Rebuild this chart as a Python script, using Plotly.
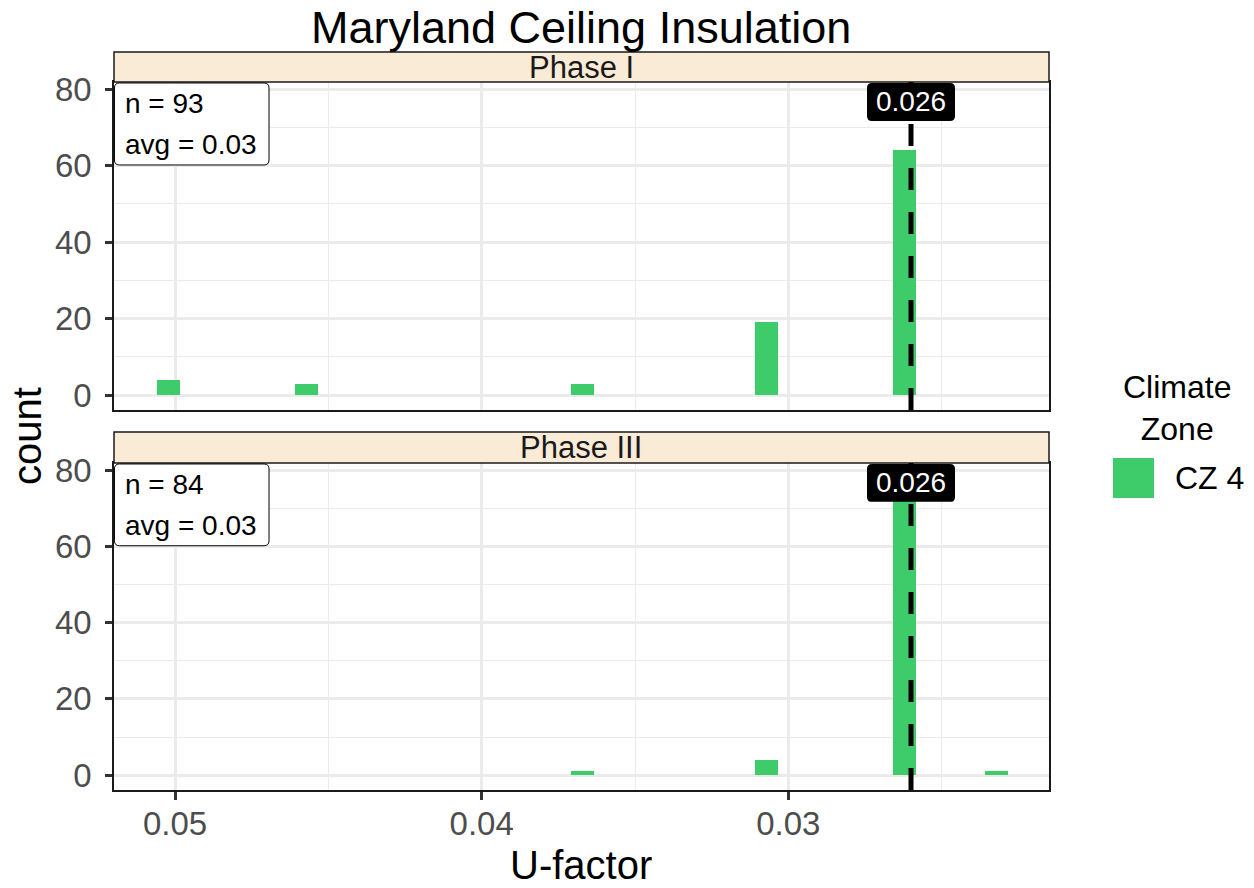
import plotly.graph_objects as go

# histogram bins (U-factor centers) and counts per phase
phase1_u = [0.0502, 0.0457, 0.0367, 0.0307, 0.0262]
phase1_count = [4, 3, 3, 19, 64]
phase3_u = [0.0367, 0.0307, 0.0262, 0.0232]
phase3_count = [1, 4, 78, 1]

phase_labels = ["Phase I", "Phase III"]
phase_n = [93, 84]
phase_avg = ["0.03", "0.03"]
code_value = 0.026

x_ticks = [0.05, 0.04, 0.03]
x_minor = [0.045, 0.035, 0.025]
y_ticks = [0, 20, 40, 60, 80]
y_minor = [10, 30, 50, 70]

green = "#3ECB6A"
font = "Liberation Sans, Arial, sans-serif"
W, H = 1254, 888
OFF = 8  # page body margin
x_range = [0.05199, 0.0215]
panel_w, panel_h = 935, 328


def fx(px):
    return (px - OFF) / W


def fy(py):
    return 1 - (py - OFF) / H


def round_rect(x0, x1, y0, y1, rx, ry):
    # rounded rectangle svg path, radii given in the shape's own units
    rx = rx if x1 > x0 else -rx
    ry = ry if y1 > y0 else -ry
    return (f"M {x0 + rx},{y0} L {x1 - rx},{y0} Q {x1},{y0} {x1},{y0 + ry} "
            f"L {x1},{y1 - ry} Q {x1},{y1} {x1 - rx},{y1} L {x0 + rx},{y1} "
            f"Q {x0},{y1} {x0},{y1 - ry} L {x0},{y0 + ry} Q {x0},{y0} {x0 + rx},{y0} Z")


fig = go.Figure()
fig.add_trace(go.Bar(x=phase1_u, y=phase1_count, width=0.00075, marker_color=green,
                     marker_line_width=0, xaxis="x", yaxis="y", showlegend=False))
fig.add_trace(go.Bar(x=phase3_u, y=phase3_count, width=0.00075, marker_color=green,
                     marker_line_width=0, xaxis="x2", yaxis="y2", showlegend=False))

xdom = [fx(114), fx(1049)]
ydoms = [[fy(410), fy(82)], [fy(790), fy(463)]]
strips = [[fy(82), fy(52)], [fy(463), fy(432)]]

axis_common = dict(showline=True, linecolor="#1a1a1a", linewidth=1.5, mirror=True,
                   showgrid=True, gridcolor="#EBEBEB", gridwidth=2.5, zeroline=False,
                   automargin=False,
                   tickfont=dict(family=font, size=33, color="#4D4D4D"))

xa = dict(axis_common, range=x_range, tickvals=x_ticks,
          ticktext=[str(v) for v in x_ticks],
          minor=dict(tickvals=x_minor, showgrid=True, gridcolor="#EBEBEB", gridwidth=1.2))
ya = dict(axis_common, range=[-3.9, 81.9], tickvals=y_ticks, ticks="outside", ticklen=7,
          tickwidth=2.5, tickcolor="#333333", ticklabelstandoff=7,
          minor=dict(tickvals=y_minor, showgrid=True, gridcolor="#EBEBEB", gridwidth=1.2))

fig.update_layout(
    template="none",
    xaxis=dict(xa, domain=xdom, anchor="y", showticklabels=False, ticks=""),
    yaxis=dict(ya, domain=ydoms[0], anchor="x"),
    xaxis2=dict(xa, domain=xdom, anchor="y2", matches="x", ticks="outside", ticklen=8,
                tickwidth=2.5, tickcolor="#333333", ticklabelstandoff=-4),
    yaxis2=dict(ya, domain=ydoms[1], anchor="x2", matches="y"),
)

# size of the value label box in x data units
x_per_px = (x_range[0] - x_range[1]) / panel_w
label_half = 44 * x_per_px

shapes = []
annotations = []
for i, (xr, yr) in enumerate([("x", "y"), ("x2", "y2")]):
    # facet strip
    shapes.append(dict(type="rect", xref="paper", yref="paper", x0=xdom[0], x1=xdom[1],
                       y0=strips[i][0], y1=strips[i][1], fillcolor="#FAEBD7",
                       line=dict(color="#1a1a1a", width=1.5), layer="above"))
    annotations.append(dict(text=phase_labels[i], xref="paper", yref="paper",
                            x=(xdom[0] + xdom[1]) / 2, y=(strips[i][0] + strips[i][1]) / 2,
                            xanchor="center", yanchor="middle", showarrow=False,
                            font=dict(family=font, size=31, color="#1a1a1a")))
    # dashed code line
    shapes.append(dict(type="line", xref=xr, yref=yr + " domain", x0=code_value, x1=code_value,
                       y0=0, y1=1, line=dict(color="black", width=5, dash="22px,22px"),
                       layer="above"))
    # n / avg box
    shapes.append(dict(type="path", xref=xr + " domain", yref=yr + " domain",
                       path=round_rect(0.0005, 0.1658, 0.747, 0.997,
                                       5 / panel_w, 5 / panel_h),
                       fillcolor="white", line=dict(color="black", width=1), layer="above"))
    annotations.append(dict(text=f"n = {phase_n[i]}", xref=xr + " domain", yref=yr + " domain",
                            x=0.0096, y=0.933, xanchor="left", yanchor="middle", showarrow=False,
                            font=dict(family=font, size=28, color="black")))
    annotations.append(dict(text=f"avg = {phase_avg[i]}", xref=xr + " domain",
                            yref=yr + " domain", x=0.0096, y=0.808, xanchor="left",
                            yanchor="middle", showarrow=False,
                            font=dict(family=font, size=28, color="black")))
    # code value label
    shapes.append(dict(type="path", xref=xr, yref=yr + " domain",
                       path=round_rect(code_value + label_half, code_value - label_half,
                                       0.997 - 38 / panel_h, 0.997,
                                       5 * x_per_px, 5 / panel_h),
                       fillcolor="black", line=dict(width=0), layer="above"))
    annotations.append(dict(text=str(code_value), xref=xr, yref=yr + " domain", x=code_value,
                            y=0.997 - 19 / panel_h, xanchor="center", yanchor="middle",
                            showarrow=False,
                            font=dict(family=font, size=28, color="white")))

# titles
annotations.append(dict(text="Maryland Ceiling Insulation", xref="paper", yref="paper",
                        x=(xdom[0] + xdom[1]) / 2, y=fy(28), xanchor="center",
                        yanchor="middle", showarrow=False,
                        font=dict(family=font, size=45, color="black")))
annotations.append(dict(text="count", xref="paper", yref="paper", x=fx(27), y=fy(436),
                        xanchor="center", yanchor="middle", textangle=-90, showarrow=False,
                        font=dict(family=font, size=40, color="black")))
annotations.append(dict(text="U-factor", xref="paper", yref="paper",
                        x=(xdom[0] + xdom[1]) / 2, y=fy(865), xanchor="center",
                        yanchor="middle", showarrow=False,
                        font=dict(family=font, size=40, color="black")))

# legend
annotations.append(dict(text="Climate<br>Zone", xref="paper", yref="paper", x=fx(1177),
                        y=fy(408), xanchor="center", yanchor="middle", showarrow=False,
                        align="center", font=dict(family=font, size=32, color="black")))
shapes.append(dict(type="rect", xref="paper", yref="paper", x0=fx(1113), x1=fx(1154),
                   y0=fy(498), y1=fy(458), fillcolor=green, line=dict(width=0)))
annotations.append(dict(text="CZ 4", xref="paper", yref="paper", x=fx(1173), y=fy(478),
                        xanchor="left", yanchor="middle", showarrow=False,
                        font=dict(family=font, size=32, color="black")))

fig.update_layout(width=W, height=H, margin=dict(l=0, r=0, t=0, b=0),
                  plot_bgcolor="white", paper_bgcolor="white", bargap=0,
                  shapes=shapes, annotations=annotations, showlegend=False)

fig.write_html("out.html")
